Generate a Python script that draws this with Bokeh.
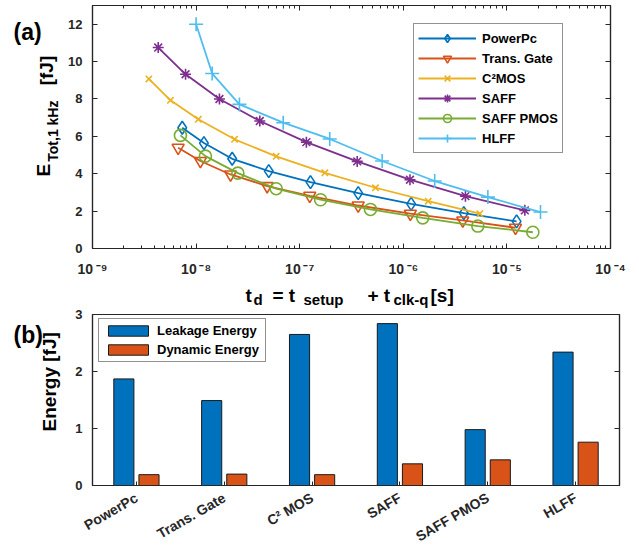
import math
from bokeh.plotting import figure
from bokeh.models import (Range1d, FactorRange, FixedTicker, LogAxis, LinearAxis,
                          CustomJSTickFormatter, Label, Legend, LegendItem, ColumnDataSource)
from bokeh.layouts import column, row
from bokeh.transform import dodge
from bokeh.embed import file_html
from bokeh.resources import INLINE

FONT = "Liberation Sans"
AX = "#262626"

# ---------------- data (a) ----------------
series_names = ["PowerPc", "Trans. Gate", "C\u00b2MOS", "SAFF", "SAFF PMOS", "HLFF"]
td_powerpc = [7.35e-9, 1.19e-8, 2.23e-8, 5.03e-8, 1.27e-7, 3.67e-7, 1.19e-6, 3.84e-6, 1.24e-5]
e_powerpc = [6.46, 5.64, 4.80, 4.14, 3.55, 2.96, 2.39, 1.89, 1.45]
td_tg = [6.71e-9, 1.10e-8, 2.15e-8, 4.85e-8, 1.25e-7, 3.67e-7, 1.17e-6, 3.75e-6, 1.21e-5]
e_tg = [5.39, 4.68, 3.96, 3.34, 2.82, 2.30, 1.86, 1.50, 1.11]
td_c2mos = [3.50e-9, 5.66e-9, 1.05e-8, 2.35e-8, 5.93e-8, 1.75e-7, 5.39e-7, 1.74e-6, 5.48e-6]
e_c2mos = [9.07, 7.93, 6.91, 5.84, 4.93, 4.05, 3.25, 2.53, 1.86]
td_saff = [4.31e-9, 7.91e-9, 1.68e-8, 4.12e-8, 1.16e-7, 3.59e-7, 1.16e-6, 3.98e-6, 1.49e-5]
e_saff = [10.75, 9.32, 8.00, 6.82, 5.69, 4.66, 3.68, 2.80, 2.04]
td_pmos = [7.06e-9, 1.23e-8, 2.53e-8, 5.93e-8, 1.59e-7, 4.82e-7, 1.54e-6, 5.24e-6, 1.78e-5]
e_pmos = [6.05, 4.94, 4.03, 3.20, 2.61, 2.09, 1.64, 1.20, 0.87]
td_hlff = [1.0e-8, 1.43e-8, 2.62e-8, 6.93e-8, 1.95e-7, 6.25e-7, 2.01e-6, 6.55e-6, 2.11e-5]
e_hlff = [12.0, 9.36, 7.71, 6.73, 5.86, 4.68, 3.61, 2.75, 1.95]
x_decades = [1e-9, 1e-8, 1e-7, 1e-6, 1e-5, 1e-4]
y_ticks_a = [0, 2, 4, 6, 8, 10, 12]

# ---------------- data (b) ----------------
categories = ["PowerPc", "Trans. Gate", "C\u00b2 MOS", "SAFF", "SAFF PMOS", "HLFF"]
leakage = [1.87, 1.49, 2.65, 2.84, 0.98, 2.34]
dynamic = [0.19, 0.20, 0.19, 0.38, 0.45, 0.76]
y_ticks_b = [0, 1, 2, 3]

colors = ["#0072BD", "#D95319", "#EDB120", "#7E2F8E", "#77AC30", "#4DBEEE"]
markers = ["diamond", "inverted_triangle", "x", "asterisk", "circle", "cross"]
msizes = [13, 12, 9, 11, 12, 14]

M = 0  # observed page offset


def style_axis(ax, labels=True):
    ax.axis_line_color = AX
    ax.axis_line_width = 1.2
    ax.major_tick_line_color = AX
    ax.minor_tick_line_color = AX
    ax.major_tick_in = 5
    ax.major_tick_out = 0
    ax.minor_tick_in = 3
    ax.minor_tick_out = 0
    ax.major_label_text_font = FONT
    ax.major_label_text_font_style = "bold"
    ax.major_label_text_color = AX
    ax.major_label_text_font_size = "13px"
    if not labels:
        ax.major_label_text_font_size = "2px"
        ax.major_label_text_alpha = 0.0
        ax.major_label_standoff = 0


def text_canvas(w, h):
    f = figure(width=w, height=h, x_range=Range1d(0, w), y_range=Range1d(h, 0),
               x_axis_location=None, y_axis_location=None, toolbar_location=None,
               output_backend="svg", min_border=0, outline_line_color=None,
               background_fill_color="white", border_fill_color="white")
    f.grid.visible = False
    return f


def put(f, x0, y0, px, py, text, size, angle=0.0, align="left"):
    # px, py: page coordinates; x0, y0: page position of the canvas' top-left
    f.add_layout(Label(x=px - x0, y=py - y0, text=text, text_font=FONT,
                       text_font_style="bold", text_font_size=f"{size}px",
                       text_color="black", angle=angle, text_align=align,
                       text_baseline="alphabetic"))


LEFT_W = 62
TOTAL_W = 630

# ================= figure (a) =================
p1 = figure(x_axis_type="log", x_range=Range1d(1e-9, 1e-4), y_range=Range1d(0, 13),
            frame_width=518, frame_height=243, min_border_left=30, min_border_right=20,
            min_border_top=5, min_border_bottom=32, toolbar_location=None,
            output_backend="svg", background_fill_color="white", border_fill_color="white")
p1.grid.visible = False
p1.outline_line_color = AX
p1.outline_line_width = 1.2

xt = FixedTicker(ticks=x_decades,
                 minor_ticks=[m * d for d in x_decades[:-1] for m in range(2, 10)])
fmt = CustomJSTickFormatter(code="""
const sup = {"-":"\u207b","0":"\u2070","1":"\u00b9","2":"\u00b2","3":"\u00b3","4":"\u2074",
             "5":"\u2075","6":"\u2076","7":"\u2077","8":"\u2078","9":"\u2079"};
const e = Math.round(Math.log10(tick)).toString();
return "10\u2009" + e.split("").map(c => sup[c]).join("");
""")
p1.xaxis.ticker = xt
p1.xaxis.formatter = fmt
p1.yaxis.ticker = FixedTicker(ticks=y_ticks_a)
for ax in p1.xaxis + p1.yaxis:
    style_axis(ax)
p1.xaxis.major_label_text_font_size = "14px"
p1.xaxis.major_label_standoff = 12
p1.yaxis.major_label_standoff = 10
p1.yaxis.minor_tick_line_color = None

top_ax = LogAxis(ticker=xt)
style_axis(top_ax, labels=False)
p1.add_layout(top_ax, "above")
right_ax = LinearAxis(ticker=FixedTicker(ticks=y_ticks_a))
style_axis(right_ax, labels=False)
right_ax.minor_tick_line_color = None
p1.add_layout(right_ax, "right")

xs = [td_powerpc, td_tg, td_c2mos, td_saff, td_pmos, td_hlff]
ys = [e_powerpc, e_tg, e_c2mos, e_saff, e_pmos, e_hlff]
items = []
for name, x, y, c, m, s in zip(series_names, xs, ys, colors, markers, msizes):
    lr = p1.line(x, y, line_color=c, line_width=1.8)
    sr = p1.scatter(x, y, marker=m, size=s, line_color=c, line_width=1.6,
                    fill_color=c, fill_alpha=0.0)
    items.append(LegendItem(label=name, renderers=[lr, sr]))

leg1 = Legend(items=items, location=(321, 95), margin=0, padding=4, spacing=0,
              glyph_width=58, glyph_height=20, label_height=20, label_standoff=6,
              label_text_font=FONT, label_text_font_style="bold",
              label_text_font_size="13px", label_text_color="black",
              border_line_color=AX, border_line_width=1.2,
              background_fill_color="white", background_fill_alpha=1.0)
p1.add_layout(leg1)

# left text block for (a): page x 0..62, y 0..280
ta = text_canvas(LEFT_W, 280)
put(ta, M, M, 13, 31, "(a)", 23)
put(ta, M, M, 43, 197, "E", 19, math.pi / 2)
put(ta, M, M, 52, 180, "Tot,1 kHz", 14, math.pi / 2)
put(ta, M, M, 46, 92, "[fJ]", 19, math.pi / 2)

# x title block: page y 280..308
tx = text_canvas(TOTAL_W, 28)
Y0 = 280
put(tx, M, Y0, 245, 295, "t", 19)
put(tx, M, Y0, 253, 299, "d", 15)
put(tx, M, Y0, 272, 295, "= t", 19)
put(tx, M, Y0, 303, 299, "setup", 15)
put(tx, M, Y0, 367, 295, "+ t", 19)
put(tx, M, Y0, 393, 299, "clk-q", 15)
put(tx, M, Y0, 430, 295, "[s]", 19)

# ================= figure (b) =================
p2 = figure(x_range=FactorRange(factors=categories), y_range=Range1d(0, 3),
            frame_width=527, frame_height=171, min_border_left=30, min_border_right=11,
            min_border_top=6, min_border_bottom=68, toolbar_location=None,
            output_backend="svg", background_fill_color="white", border_fill_color="white")
p2.grid.visible = False
p2.outline_line_color = AX
p2.outline_line_width = 1.2

src = ColumnDataSource(dict(cats=categories, leakage=leakage, dynamic=dynamic))
r_leak = p2.vbar(x=dodge("cats", -0.143, range=p2.x_range), top="leakage", width=0.229,
                 source=src, fill_color=colors[0], line_color="#1a1a1a", line_width=1)
r_dyn = p2.vbar(x=dodge("cats", 0.143, range=p2.x_range), top="dynamic", width=0.229,
                source=src, fill_color=colors[1], line_color="#1a1a1a", line_width=1)

p2.yaxis.ticker = FixedTicker(ticks=y_ticks_b)
for ax in p2.xaxis + p2.yaxis:
    style_axis(ax)
p2.yaxis.major_label_standoff = 10
p2.yaxis.minor_tick_line_color = None
p2.xaxis.major_label_orientation = math.pi / 6
p2.xaxis.major_label_standoff = 11
p2.xaxis.major_label_text_font_size = "14px"
p2.xaxis.major_label_overrides = {c: c + "\u00a0\u00a0\u00a0" for c in categories}
p2.xaxis.major_tick_in = 4
right_b = LinearAxis(ticker=FixedTicker(ticks=y_ticks_b))
style_axis(right_b, labels=False)
right_b.minor_tick_line_color = None
p2.add_layout(right_b, "right")

leg2 = Legend(items=[LegendItem(label="Leakage Energy", renderers=[r_leak]),
                     LegendItem(label="Dynamic Energy", renderers=[r_dyn])],
              location=(6, 123), margin=0, padding=4, spacing=4,
              glyph_width=50, glyph_height=13, label_height=13, label_standoff=4,
              label_width=104,
              label_text_font=FONT, label_text_font_style="bold",
              label_text_font_size="13px", label_text_color="black",
              border_line_color=AX, border_line_width=1.2,
              background_fill_color="white", background_fill_alpha=1.0)
p2.add_layout(leg2)

# left text block for (b): page y 308..553
tb = text_canvas(LEFT_W, 245)
Y1 = 308
put(tb, M, Y1, 13, 338, "(b)", 23)
put(tb, M, Y1, 49, 405, "Energy [fJ]", 19, math.pi / 2, align="center")

layout = column(row(ta, p1), tx, row(tb, p2))
open("out.html", "w").write(file_html(layout, INLINE))
